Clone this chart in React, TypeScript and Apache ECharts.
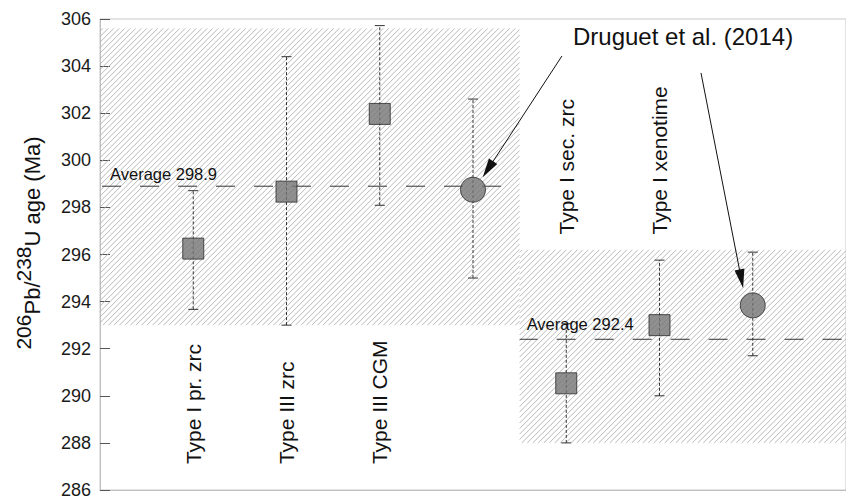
import React, { useEffect, useRef } from "react";
import * as echarts from "echarts";

const FONT = "'Liberation Sans', Arial, Helvetica, sans-serif";

// Sample slots along a hidden 0..8 horizontal value axis
const slots = [1, 2, 3, 4, 5, 6, 7];
const sampleNames = ["Type I pr. zrc", "Type III zrc", "Type III CGM", "", "Type I sec. zrc", "Type I xenotime", ""];
const ages = [296.25, 298.67, 301.97, 298.75, 290.53, 293.0, 293.84];
const ageLow = [293.67, 293.0, 298.09, 295.0, 288.0, 290.0, 291.7];
const ageHigh = [298.71, 304.4, 305.72, 302.6, 293.06, 295.76, 296.1];
const markerKinds = ["square", "square", "square", "circle", "square", "square", "circle"];

// Two age populations: weighted averages and their uncertainty bands
const groupAverages = [298.9, 292.4];
const groupFrom = [0, 4.5];
const groupTo = [4.5, 8];
const bandLow = [293.0, 288.0];
const bandHigh = [305.6, 296.2];

const yTicks = { min: 286, max: 306, interval: 2 };

export default function App() {
  const ref = useRef<HTMLDivElement>(null);

  useEffect(() => {
    if (!ref.current) return;
    const chart = echarts.init(ref.current, null, { renderer: "svg" });

    const hatchData = groupFrom.map((f, i) => [f, groupTo[i], bandLow[i], bandHigh[i]]);

    const hatchSeries = {
      type: "custom",
      z: 1,
      silent: true,
      data: hatchData,
      renderItem: (_p: any, api: any) => {
        const tl = api.coord([api.value(0), api.value(3)]);
        const br = api.coord([api.value(1), api.value(2)]);
        const x0 = tl[0], y0 = tl[1], x1 = br[0], y1 = br[1];
        const step = 5.5;
        const children: any[] = [];
        for (let k = x0 + y0 + step / 2; k < x1 + y1; k += step) {
          const sx = Math.max(x0, k - y1);
          const ex = Math.min(x1, k - y0);
          if (ex <= sx) continue;
          children.push({
            type: "line",
            shape: { x1: sx, y1: k - sx, x2: ex, y2: k - ex },
            style: { stroke: "#b0b0b0", lineWidth: 0.9 },
          });
        }
        return { type: "group", children };
      },
    };

    const averageLines = groupAverages.map((avg, i) => ({
      type: "line",
      z: 2,
      silent: true,
      symbol: "none",
      data: [[groupFrom[i], avg], [groupTo[i], avg]],
      lineStyle: { color: "#333", width: 1, type: [19, 19], dashOffset: i === 0 ? 36 : 1 },
    }));

    const errorBars = {
      type: "custom",
      z: 3,
      silent: true,
      data: slots.map((x, i) => [x, ageLow[i], ageHigh[i]]),
      renderItem: (_p: any, api: any) => {
        const x = api.value(0);
        const lo = api.coord([x, api.value(1)]);
        const hi = api.coord([x, api.value(2)]);
        const half = 5;
        const solid = { stroke: "#333", lineWidth: 1 };
        return {
          type: "group",
          children: [
            { type: "line", shape: { x1: lo[0], y1: lo[1], x2: hi[0], y2: hi[1] }, style: { stroke: "#333", lineWidth: 1, lineDash: [3, 2] } },
            { type: "line", shape: { x1: lo[0] - half, y1: lo[1], x2: lo[0] + half, y2: lo[1] }, style: solid },
            { type: "line", shape: { x1: hi[0] - half, y1: hi[1], x2: hi[0] + half, y2: hi[1] }, style: solid },
          ],
        };
      },
    };

    const markerStyle = { color: "#747474", borderColor: "#2a2a2a", borderWidth: 1 };

    const squares = {
      type: "scatter",
      z: 4,
      silent: true,
      symbol: "rect",
      symbolSize: 21,
      itemStyle: markerStyle,
      data: slots.map((x, i) => (markerKinds[i] === "square" ? [x, ages[i]] : null)).filter(Boolean),
    };

    const circles = {
      type: "scatter",
      z: 4,
      silent: true,
      symbol: "circle",
      symbolSize: 25,
      itemStyle: markerStyle,
      data: slots.map((x, i) => (markerKinds[i] === "circle" ? [x, ages[i]] : null)).filter(Boolean),
      markLine: {
        silent: true,
        symbol: ["none", "triangle"],
        symbolSize: [10, 19],
        label: { show: false },
        lineStyle: { color: "#111", width: 1, type: "solid" },
        data: [
          [{ coord: [4.954, 304.43] }, { coord: [4.16, 299.62] }],
          [{ coord: [6.445, 303.71] }, { coord: [6.877, 294.97] }],
        ],
      },
    };

    const staticGraphics: any[] = [
      {
        type: "text",
        x: 28,
        y: 243,
        rotation: Math.PI / 2,
        style: {
          text: "{sup|206}{n|Pb/}{sup|238}{n|U age (Ma)}",
          align: "center",
          verticalAlign: "middle",
          fill: "#111",
          fontFamily: FONT,
          fontSize: 22,
          rich: {
            sup: { fontSize: 21, fontFamily: FONT, fill: "#111", verticalAlign: "top", padding: [0, 0, 10, 0] },
            n: { fontSize: 22, fontFamily: FONT, fill: "#111", verticalAlign: "bottom" },
          },
        },
      },
      {
        type: "text",
        x: 573,
        y: 36,
        style: {
          text: "Druguet et al. (2014)",
          fontSize: 24,
          fontFamily: FONT,
          fill: "#111",
          verticalAlign: "middle",
        },
      },
    ];

    chart.setOption({
      animation: false,
      backgroundColor: "#fff",
      textStyle: { fontFamily: FONT },
      grid: {
        left: 100,
        right: -1,
        top: 19,
        bottom: 8,
        show: true,
        borderColor: "#c8c8c8",
        borderWidth: 1,
      },
      xAxis: {
        type: "value",
        min: 0,
        max: 8,
        axisLine: { show: true, lineStyle: { color: "#c0c0c0" } },
        axisTick: { show: false },
        axisLabel: { show: false },
        splitLine: { show: false },
      },
      yAxis: {
        type: "value",
        min: yTicks.min,
        max: yTicks.max,
        interval: yTicks.interval,
        axisLine: { show: true, lineStyle: { color: "#c0c0c0" } },
        axisTick: { show: true, inside: true, length: 10, lineStyle: { color: "#555" } },
        axisLabel: { fontSize: 18, color: "#1a1a1a", margin: 9, fontFamily: FONT },
        splitLine: { show: false },
      },
      graphic: staticGraphics,
      series: [hatchSeries, ...averageLines, errorBars, squares, circles],
    });

    // Text placed from data coordinates: rotated sample names and average captions
    const toPx = (x: number, y: number) => chart.convertToPixel({ gridIndex: 0 }, [x, y]) as number[];
    const nameAnchor = (i: number) => (i < 4 ? bandLow[0] - 5.9 : bandHigh[1] + 0.65);

    const nameTexts = slots
      .map((x, i) => ({ x, i }))
      .filter(({ i }) => sampleNames[i] !== "")
      .map(({ x, i }) => {
        const p = toPx(x, nameAnchor(i));
        return {
          type: "text",
          x: p[0],
          y: p[1],
          rotation: Math.PI / 2,
          z: 10,
          style: {
            text: sampleNames[i],
            fontSize: 21,
            fontFamily: FONT,
            fill: "#111",
            align: "left",
            verticalAlign: "middle",
          },
        };
      });

    const averageTexts = groupAverages.map((avg, i) => {
      const p = toPx(groupFrom[i], avg);
      return {
        type: "text",
        x: p[0] + (i === 0 ? 10 : 7),
        y: p[1] - (i === 0 ? 12 : 15),
        z: 10,
        style: {
          text: `Average ${avg.toFixed(1)}`,
          fontSize: 16.5,
          fontFamily: FONT,
          fill: "#111",
          align: "left",
          verticalAlign: "middle",
        },
      };
    });

    chart.setOption({ graphic: [...staticGraphics, ...nameTexts, ...averageTexts] });

    return () => chart.dispose();
  }, []);

  return (
    <div
      ref={ref}
      style={{ position: "fixed", left: 0, top: 0, width: 846, height: 499, background: "#fff" }}
    />
  );
}
